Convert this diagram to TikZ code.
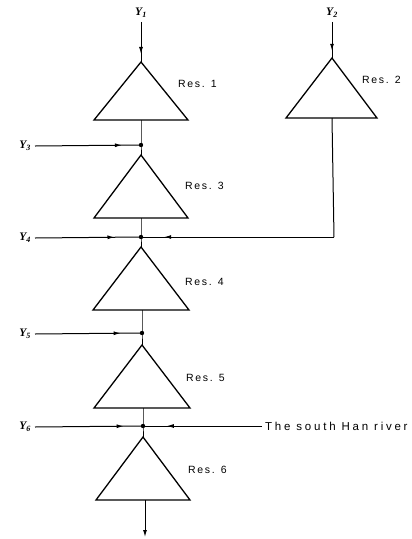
\documentclass[tikz,border=0pt]{standalone}
\usepackage{fontspec}
\newfontfamily\labfont[LetterSpace=16]{Liberation Sans}
\newfontfamily\riverfont[LetterSpace=24]{Liberation Sans}
\newfontfamily\yfont{Liberation Serif}
\usetikzlibrary{decorations.markings,arrows.meta}
\begin{document}
\begin{tikzpicture}[x=1pt,y=1pt,
  flow/.style={draw,line width=1pt},
  res/.style={draw,line width=1.3pt,line join=miter},
  midarrow/.style={postaction={decorate},decoration={markings,
      mark=at position #1 with {\arrow{Latex[length=7pt,width=4pt]}}}},
  reslabel/.style={anchor=west,inner sep=0pt,font=\labfont\fontsize{10.5}{11}\selectfont},
  ylabel/.style={inner sep=0pt,font=\yfont\bfseries\itshape\fontsize{11.5}{12}\selectfont},
  endarrow/.style={-{Latex[length=7pt,width=4pt]}}]
\useasboundingbox (0,0) rectangle (412,-539);

% coordinates
\coordinate (a1) at (141,-62);  \coordinate (b1) at (141,-120);
\coordinate (a2) at (332,-58);  \coordinate (b2) at (332,-118);
\coordinate (a3) at (141,-155); \coordinate (b3) at (141,-218);
\coordinate (a4) at (141,-247); \coordinate (b4) at (142,-310);
\coordinate (a5) at (142,-345); \coordinate (b5) at (143,-408);
\coordinate (a6) at (143,-437); \coordinate (b6) at (145,-500);
\coordinate (corner) at (334,-237);
\coordinate (out) at (145,-537);

% junctions
\coordinate (j3) at (141,-145);
\coordinate (j4) at (141,-237);
\coordinate (j5) at (142,-333);
\coordinate (j6) at (143,-426);

% triangles (reservoirs)
\draw[res] (a1) -- ++(47,-58) -- ++(-94,0) -- cycle;
\draw[res] (a2) -- ++(45,-60) -- ++(-91,0) -- cycle;
\draw[res] (a3) -- ++(47,-63) -- ++(-94,0) -- cycle;
\draw[res] (a4) -- ++(48,-63) -- ++(-96,0) -- cycle;
\draw[res] (a5) -- ++(48,-63) -- ++(-96,0) -- cycle;
\draw[res] (a6) -- ++(47,-63) -- ++(-94,0) -- cycle;

% labels
\node[reslabel] (r1) at (178,-84) {Res. 1};
\node[reslabel] (r2) at (362,-80) {Res. 2};
\node[reslabel] (r3) at (185,-186) {Res. 3};
\node[reslabel] (r4) at (185,-282) {Res. 4};
\node[reslabel] (r5) at (186,-378) {Res. 5};
\node[reslabel] (r6) at (188,-470) {Res. 6};

\node[ylabel] (y1) at (141,-13) {Y\textsubscript{1}};
\node[ylabel] (y2) at (332,-13) {Y\textsubscript{2}};
\node[ylabel,anchor=east] (y3) at (31,-146) {Y\textsubscript{3}};
\node[ylabel,anchor=east] (y4) at (31,-238) {Y\textsubscript{4}};
\node[ylabel,anchor=east] (y5) at (31,-334) {Y\textsubscript{5}};
\node[ylabel,anchor=east] (y6) at (31,-427) {Y\textsubscript{6}};
\node[anchor=west,inner sep=0pt,font=\riverfont\fontsize{11.5}{12}\selectfont] (han) at (265,-426) {The south Han river};

% inflows
\draw[flow,midarrow=0.8] (y1.south) ++(0,-4) coordinate (y1s) (y1s) -- (a1);
\draw[flow,midarrow=0.8] (y2.south) ++(0,-4) coordinate (y2s) (y2s) -- (a2);
\draw[flow,midarrow=0.82] (y3.east) ++(4,0) coordinate (y3s) (y3s) -- (j3);
\draw[flow,midarrow=0.75] (y4.east) ++(4,0) coordinate (y4s) (y4s) -- (j4);
\draw[flow,midarrow=0.8] (y5.east) ++(4,0) coordinate (y5s) (y5s) -- (j5);
\draw[flow,midarrow=0.82] (y6.east) ++(4,0) coordinate (y6s) (y6s) -- (j6);
\draw[flow,midarrow=0.8] (han.west) ++(-3,0) coordinate (hans) (hans) -- (j6);

% chain
\draw[flow] (b1) -- (j3) -- (a3);
\draw[flow] (b3) -- (j4) -- (a4);
\draw[flow] (b4) -- (j5) -- (a5);
\draw[flow] (b5) -- (j6) -- (a6);
\draw[flow] (b2) -- (corner);
\draw[flow,midarrow=0.88] (corner) -- (j4);
\draw[flow,endarrow] (b6) -- (out);

% junction dots
\foreach \j in {j3,j4,j5,j6} \fill (\j) circle (2.2pt);
\end{tikzpicture}
\end{document}
